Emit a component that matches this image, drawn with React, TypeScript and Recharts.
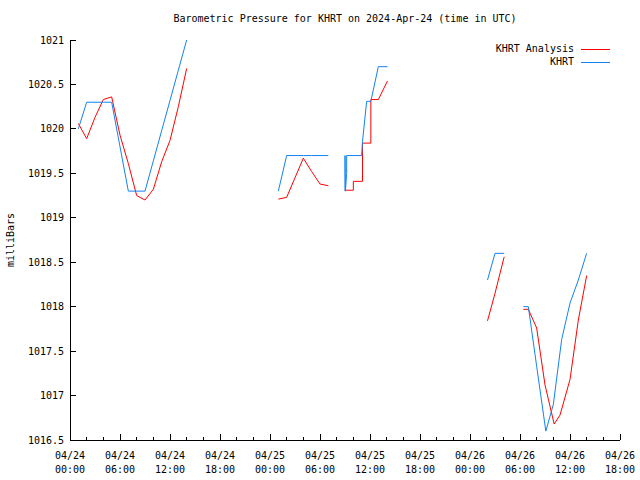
import { LineChart, Line, XAxis, YAxis } from "recharts";

// hours since 04/24 00:00 UTC
const analysisHours = [
  1, 2, 3, 4, 5, 6, 7, 8, 9, 10, 11, 12, 13, 14,
  20,
  25, 26, 27, 28, 29, 30, 31,
  32,
  33.1, 34, 34, 35.1, 35.1, 36.1, 36.1, 37, 38.1,
  45,
  50.1, 51, 52.1,
  53,
  54.4, 55, 56, 57, 58.1, 58.8, 60, 61, 62,
];
const analysisValues = [
  1020.06, 1019.89, 1020.13, 1020.33, 1020.36, 1019.93, 1019.61, 1019.25, 1019.2, 1019.32, 1019.63, 1019.87, 1020.25, 1020.68,
  null,
  1019.21, 1019.23, 1019.45, 1019.67, 1019.52, 1019.38, 1019.36,
  null,
  1019.31, 1019.31, 1019.41, 1019.41, 1019.84, 1019.84, 1020.33, 1020.33, 1020.54,
  null,
  1017.84, 1018.15, 1018.56,
  null,
  1017.97, 1017.97, 1017.76, 1017.12, 1016.68, 1016.78, 1017.18, 1017.85, 1018.35,
];

const khrtHours = [
  1, 2, 3, 4, 5, 6, 7, 8, 9, 10, 11, 12, 13, 14,
  20,
  25, 26, 27, 28, 29, 30, 31,
  32,
  33, 33, 33.05, 33.2, 33.2, 35, 35.1, 35.6, 36.1, 37, 38.1,
  45,
  50.1, 51, 52.1,
  53,
  54.4, 55, 56, 57.1, 58, 59, 60, 61, 62,
];
const khrtValues = [
  1020.0, 1020.3, 1020.3, 1020.3, 1020.3, 1019.8, 1019.3, 1019.3, 1019.3, 1019.64, 1019.98, 1020.32, 1020.66, 1021.0,
  null,
  1019.3, 1019.7, 1019.7, 1019.7, 1019.7, 1019.7, 1019.7,
  null,
  1019.3, 1019.7, 1019.3, 1019.5, 1019.7, 1019.7, 1019.86, 1020.31, 1020.31, 1020.7, 1020.7,
  null,
  1018.3, 1018.6, 1018.6,
  null,
  1018.0, 1018.0, 1017.33, 1016.6, 1016.9, 1017.63, 1018.04, 1018.3, 1018.6,
];

const dateLabels = ["04/24", "04/24", "04/24", "04/24", "04/25", "04/25", "04/25", "04/25", "04/26", "04/26", "04/26", "04/26"];
const timeLabels = ["00:00", "06:00", "12:00", "18:00", "00:00", "06:00", "12:00", "18:00", "00:00", "06:00", "12:00", "18:00"];
const hourTicks = Array.from({ length: 34 }, (_, i) => i * 2);
const pressureTicks = [1016.5, 1017, 1017.5, 1018, 1018.5, 1019, 1019.5, 1020, 1020.5, 1021];

const analysisData = analysisHours.map((h, i) => ({ h, p: analysisValues[i] }));
const khrtData = khrtHours.map((h, i) => ({ h, p: khrtValues[i] }));

const FONT = "'DejaVu Sans Mono', 'Liberation Mono', monospace";
const RED = "#ff0000";
const BLUE = "#1482f0";

function BottomTick({ x, y, payload }: any) {
  const h = payload.value;
  const major = h % 6 === 0;
  const idx = h / 6;
  return (
    <g>
      <line x1={x} x2={x} y1={y} y2={y - (major ? 6 : 3)} stroke="#000" shapeRendering="crispEdges" />
      {major && (
        <text textAnchor="middle" fontFamily={FONT} fontSize={10} fill="#000">
          <tspan x={x} y={y + 18.5}>{dateLabels[idx]}</tspan>
          <tspan x={x} y={y + 32.5}>{timeLabels[idx]}</tspan>
        </text>
      )}
    </g>
  );
}

function TopTick({ x, y, payload }: any) {
  const major = payload.value % 6 === 0;
  return <line x1={x} x2={x} y1={y} y2={y + (major ? 6 : 3)} stroke="#000" shapeRendering="crispEdges" />;
}

function LeftTick({ x, y, payload }: any) {
  return (
    <g>
      <line x1={x} x2={x + 6} y1={y} y2={y} stroke="#000" shapeRendering="crispEdges" />
      <text x={x - 6} y={y} dy="0.36em" textAnchor="end" fontFamily={FONT} fontSize={10} fill="#000">
        {payload.value}
      </text>
    </g>
  );
}

function RightTick({ x, y }: any) {
  return <line x1={x} x2={x - 6} y1={y} y2={y} stroke="#000" shapeRendering="crispEdges" />;
}

export default function App() {
  return (
    <div style={{ position: "absolute", left: 0, top: 0, width: 640, height: 480, background: "#fff", fontFamily: FONT }}>
      <LineChart width={640} height={480} margin={{ top: 40, right: 20, bottom: 0, left: 0 }}>
        <XAxis
          xAxisId={0}
          dataKey="h"
          type="number"
          domain={[0, 66]}
          ticks={hourTicks}
          interval={0}
          height={40}
          tickSize={0}
          tickMargin={0}
          tickLine={false}
          axisLine={{ stroke: "#000", shapeRendering: "crispEdges" }}
          tick={<BottomTick />}
          allowDataOverflow
        />
        <XAxis
          xAxisId="top"
          orientation="top"
          dataKey="h"
          type="number"
          domain={[0, 66]}
          ticks={hourTicks}
          interval={0}
          height={0}
          tickSize={0}
          tickMargin={0}
          tickLine={false}
          axisLine={{ stroke: "#000", shapeRendering: "crispEdges" }}
          tick={<TopTick />}
          allowDataOverflow
        />
        <YAxis
          yAxisId={0}
          type="number"
          domain={[1016.5, 1021]}
          ticks={pressureTicks}
          interval={0}
          width={70}
          tickSize={0}
          tickMargin={0}
          tickLine={false}
          axisLine={{ stroke: "#000", shapeRendering: "crispEdges" }}
          tick={<LeftTick />}
          allowDataOverflow
        />
        <YAxis
          yAxisId="right"
          orientation="right"
          type="number"
          domain={[1016.5, 1021]}
          ticks={pressureTicks}
          interval={0}
          width={0}
          tickSize={0}
          tickMargin={0}
          tickLine={false}
          axisLine={{ stroke: "#000", shapeRendering: "crispEdges" }}
          tick={<RightTick />}
          allowDataOverflow
        />
        <Line
          data={analysisData}
          dataKey="p"
          name="KHRT Analysis"
          type="linear"
          stroke={RED}
          strokeWidth={1}
          dot={false}
          activeDot={false}
          connectNulls={false}
          isAnimationActive={false}
        />
        <Line
          data={khrtData}
          dataKey="p"
          name="KHRT"
          type="linear"
          stroke={BLUE}
          strokeWidth={1}
          dot={false}
          activeDot={false}
          connectNulls={false}
          isAnimationActive={false}
        />
      </LineChart>

      <div style={{ position: "absolute", left: 0, width: 690, top: 13, textAlign: "center", fontSize: 10, lineHeight: "12px", color: "#000" }}>
        Barometric Pressure for KHRT on 2024-Apr-24 (time in UTC)
      </div>
      <div
        style={{
          position: "absolute",
          left: 11,
          top: 240,
          transform: "translate(-50%, -50%) rotate(-90deg)",
          fontSize: 10,
          lineHeight: "12px",
          whiteSpace: "nowrap",
          color: "#000",
        }}
      >
        milliBars
      </div>
      {[
        { label: "KHRT Analysis", color: RED, top: 43 },
        { label: "KHRT", color: BLUE, top: 56 },
      ].map((item) => (
        <div key={item.label} style={{ position: "absolute", top: item.top, right: 640 - 610, display: "flex", alignItems: "center", fontSize: 10, lineHeight: "12px", color: "#000" }}>
          <span>{item.label}</span>
          <span style={{ display: "inline-block", width: 29, height: 1, background: item.color, marginLeft: 7 }} />
        </div>
      ))}
    </div>
  );
}
